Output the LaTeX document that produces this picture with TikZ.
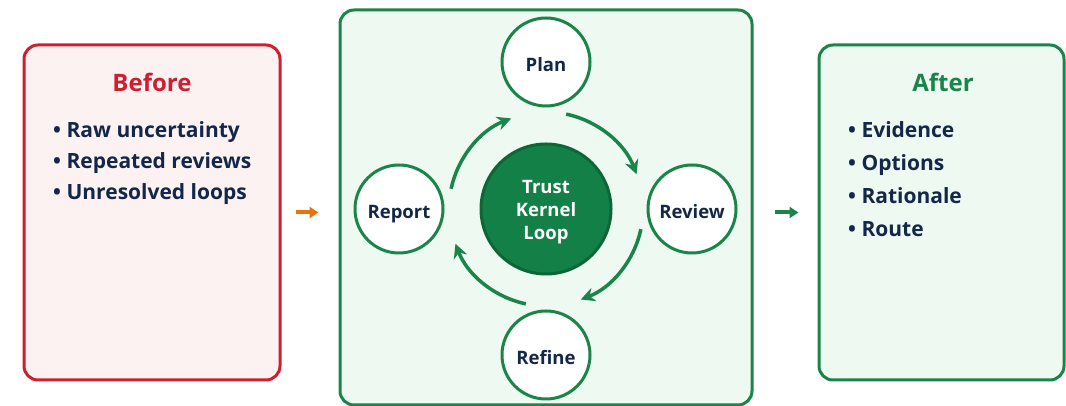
\documentclass[tikz,border=0pt]{standalone}
\usepackage{fontspec}
\setmainfont{Open Sans}
\usetikzlibrary{arrows.meta, positioning, calc}

\definecolor{kgreen}{HTML}{1B8549}
\definecolor{kdark}{HTML}{138047}
\definecolor{kdarker}{HTML}{0D6636}
\definecolor{kmint}{HTML}{EDF9F1}
\definecolor{kred}{HTML}{CC2030}
\definecolor{kpink}{HTML}{FDF2F2}
\definecolor{knavy}{HTML}{13274A}
\definecolor{korange}{HTML}{E8730C}

\begin{document}
\begin{tikzpicture}[x=1pt, y=1pt,
    panel/.style={draw, line width=3pt, rounded corners=14pt},
    stage/.style={circle, draw=kgreen, line width=3pt, fill=white, minimum size=88pt,
        inner sep=0pt, text height=19.5pt, text depth=0pt, text=knavy,
        font=\fontsize{18.5}{22}\selectfont\bfseries},
    flow/.style={kgreen, line width=3.5pt, -{Stealth[length=14pt, width=14pt]}},
    heading/.style={anchor=base, font=\fontsize{24}{28}\selectfont\bfseries},
    item/.style={anchor=base west, inner sep=0pt, text=knavy, font=\fontsize{21}{25}\selectfont\bfseries}]
    \useasboundingbox (0,0) rectangle (1066,406);

    % The three panels
    \node[panel, draw=kred, fill=kpink, minimum width=256pt, minimum height=335pt] (before) at (152,193.5) {};
    \node[panel, draw=kgreen, fill=kmint, minimum width=412pt, minimum height=395pt] (loopbox) at (546,198.5) {};
    \node[panel, draw=kgreen, fill=kmint, minimum width=245pt, minimum height=335pt] (after) at (941.5,193.5) {};

    % Titles and lists
    \node[heading, text=kred] (beforetitle) at (152,314) {Before};
    \node[heading, text=kgreen] (aftertitle) at (943,314) {After};
    \foreach \t [count=\i] in {Raw uncertainty, Repeated reviews, Unresolved loops} {
        \node[item] (b\i) at (53,{268-31*(\i-1)}) {• \t};
    }
    \foreach \t [count=\i] in {Evidence, Options, Rationale, Route} {
        \node[item] (a\i) at (848,{268-33*(\i-1)}) {• \t};
    }

    % The loop in the middle
    \node[circle, draw=kdarker, line width=3pt, fill=kdark, minimum size=130pt, text=white, align=center,
        text height=66pt, text depth=4pt,
        font=\fontsize{18.5}{23}\selectfont\bfseries] (kernel) at (546,197) {Trust\\Kernel\\Loop};
    \node[stage] (plan) at (546,344) {Plan};
    \node[stage] (review) at (692,197) {Review};
    \node[stage] (refine) at (546,51) {Refine};
    \node[stage] (report) at (399,197) {Report};

    \foreach \a in {0,90,180,270} {
        \draw[flow] ($(kernel)+(78-\a:97)$) arc[start angle=78-\a, end angle=21-\a, radius=97];
    }

    % Arrows between panels
    \draw[korange, line width=4pt, -{Triangle[length=9pt, width=11pt]}, shorten <=14pt, shorten >=20pt]
        (before.east) -- (before.east -| loopbox.west);
    \draw[kgreen, line width=4pt, -{Triangle[length=9pt, width=11pt]}, shorten <=21pt, shorten >=19pt]
        (loopbox.east |- before.east) -- (after.west);
\end{tikzpicture}
\end{document}
